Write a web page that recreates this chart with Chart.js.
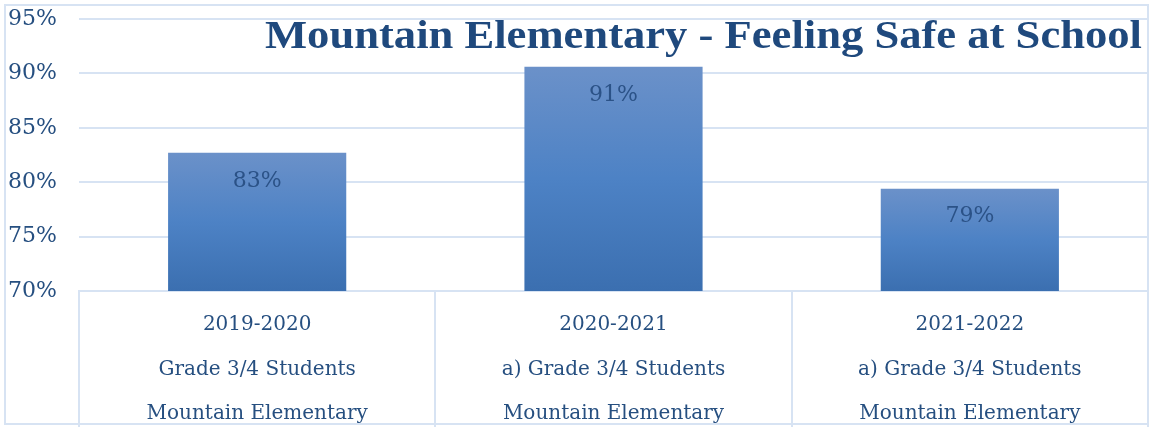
<!DOCTYPE html>
<html>
<head>
<meta charset="utf-8">
<script src="https://cdn.jsdelivr.net/npm/chart.js@4"></script>
<style>
  html, body { margin: 0; padding: 0; background: #fff; }
  canvas { display: block; }
</style>
</head>
<body>
<canvas id="chart" width="1152" height="427"></canvas>
<script>
// data
var categories = [
    ["2019-2020", "Grade 3/4 Students", "Mountain Elementary"],
    ["2020-2021", "a) Grade 3/4 Students", "Mountain Elementary"],
    ["2021-2022", "a) Grade 3/4 Students", "Mountain Elementary"]
];
var feelingSafe = [82.7, 90.6, 79.4];
var yTicks = [70, 75, 80, 85, 90, 95];
var chartTitle = "Mountain Elementary - Feeling Safe at School";

var serif = "'DejaVu Serif', 'Liberation Serif', serif";
var titleFont = "'Liberation Serif', serif";
var textBlue = "#264F80";
var gridBlue = "#D7E3F3";

// outer frame + title drawn over the plot, like the original
var framePlugin = {
    id: "frame",
    beforeDraw: function(chart) {
        var ctx = chart.ctx;
        ctx.save();
        ctx.fillStyle = "#fff";
        ctx.fillRect(0, 0, chart.width, chart.height);
        ctx.strokeStyle = gridBlue;
        ctx.lineWidth = 2;
        ctx.strokeRect(5, 5, chart.width - 9, chart.height - 8);
        ctx.restore();
    },
    afterDraw: function(chart) {
        var ctx = chart.ctx;
        var right = chart.chartArea.right - 6;
        ctx.save();
        ctx.font = "bold 41px " + titleFont;
        ctx.fillStyle = "#1F497D";
        ctx.textAlign = "right";
        ctx.textBaseline = "alphabetic";
        // stretch to the width the title takes in the original
        var w = ctx.measureText(chartTitle).width;
        ctx.translate(right, 48);
        ctx.scale(877 / w, 1);
        ctx.fillText(chartTitle, 0, 0);
        ctx.restore();
    }
};

// value labels inside the top of each bar
var valuePlugin = {
    id: "values",
    afterDatasetsDraw: function(chart) {
        var ctx = chart.ctx;
        var meta = chart.getDatasetMeta(0);
        ctx.save();
        ctx.font = "22px " + serif;
        ctx.fillStyle = "#2B5287";
        ctx.textAlign = "center";
        ctx.textBaseline = "middle";
        meta.data.forEach(function(bar, i) {
            ctx.fillText(Math.round(feelingSafe[i]) + "%", bar.x, bar.y + 28);
        });
        ctx.restore();
    }
};

// each bar gets its own light-top / dark-bottom gradient
function barFill(c) {
    var chart = c.chart;
    if (!chart.chartArea || c.raw == null) return "#4F81BD";
    var top = chart.scales.y.getPixelForValue(c.raw);
    var bottom = chart.chartArea.bottom;
    var g = chart.ctx.createLinearGradient(0, top, 0, bottom);
    g.addColorStop(0, "#6B91C9");
    g.addColorStop(0.5, "#4D82C5");
    g.addColorStop(1, "#3B6FB0");
    return g;
}

var ctx = document.getElementById("chart").getContext("2d");
var bar = new Chart(ctx, {
    type: "bar",
    data: {
        labels: categories,
        datasets: [{
            label: "Feeling safe",
            data: feelingSafe,
            backgroundColor: barFill,
            borderWidth: 0,
            barPercentage: 1,
            categoryPercentage: 0.5
        }]
    },
    options: {
        responsive: false,
        animation: false,
        devicePixelRatio: 1,
        layout: {
            padding: { left: 8, top: 19, right: 4, bottom: 0 }
        },
        plugins: {
            legend: { display: false },
            title: { display: false },
            tooltip: { enabled: false }
        },
        scales: {
            y: {
                min: 70,
                max: 95,
                afterBuildTicks: function(scale) {
                    scale.ticks = yTicks.map(function(v) { return { value: v }; });
                },
                afterFit: function(scale) { scale.width = 71; },
                border: { display: false },
                grid: { color: gridBlue, lineWidth: 2, drawTicks: false },
                ticks: {
                    crossAlign: "far",
                    padding: 0,
                    color: textBlue,
                    font: { family: serif, size: 22 },
                    callback: function(v) { return v + "%"; }
                }
            },
            x: {
                offset: true,
                afterFit: function(scale) { scale.height = 136; },
                border: { display: true, color: gridBlue, width: 2 },
                grid: {
                    offset: true,
                    drawOnChartArea: false,
                    drawTicks: true,
                    tickLength: 136,
                    tickColor: gridBlue,
                    lineWidth: 2
                },
                ticks: {
                    padding: -124,
                    maxRotation: 0,
                    autoSkip: false,
                    color: textBlue,
                    font: { family: serif, size: 20, lineHeight: 2.22 }
                }
            }
        }
    },
    plugins: [framePlugin, valuePlugin]
});
</script>
</body>
</html>
